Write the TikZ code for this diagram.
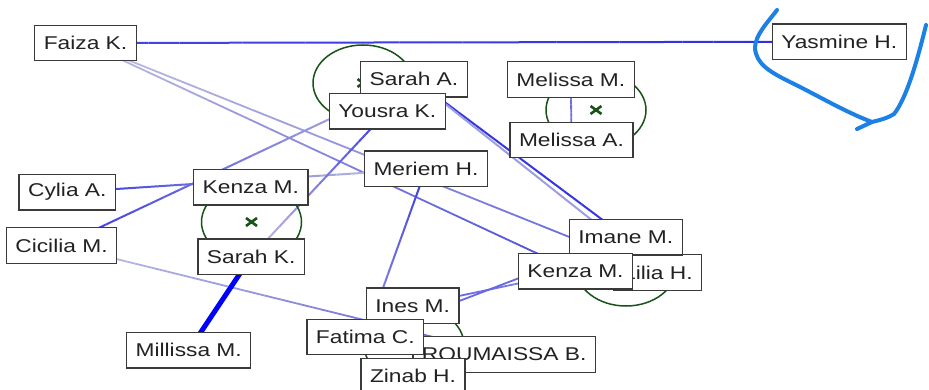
\documentclass[tikz,border=0pt]{standalone}
\usepackage{fontspec}
\setmainfont{Liberation Sans}[FakeStretch=1.23]
\usetikzlibrary{calc,backgrounds}

\definecolor{eblue}{RGB}{45,45,225}
\definecolor{elight}{RGB}{205,205,222}
\definecolor{boxline}{RGB}{58,58,58}
\definecolor{pairgreen}{RGB}{24,84,24}
\definecolor{inkblue}{RGB}{28,128,228}
\definecolor{txt}{RGB}{34,34,34}

% connector between two named nodes, its colour shading from #3 % to #4 % blue
\newcommand\gradedge[5]{%
  \foreach \k in {0,...,23}{%
    \pgfmathsetmacro\ta{\k/24}%
    \pgfmathsetmacro\tb{(\k+1)/24}%
    \pgfmathtruncatemacro\pc{#3+(#4-#3)*(\k+0.5)/24}%
    \draw[line width=#5pt, color=eblue!\pc!elight]
      ($(#1.center)!\ta!(#2.center)$) -- ($(#1.center)!\tb!(#2.center)$);
  }}

% green ring with a cross at its centre
\newcommand\pairring[1]{%
  \draw[pairgreen, line width=1.5pt] (#1) ellipse [x radius=50pt, y radius=38pt];
  \draw[pairgreen, line width=2.6pt]
    ([shift={(-5.5,-4)}]#1) -- ([shift={(5.5,4)}]#1)
    ([shift={(-5.5,4)}]#1) -- ([shift={(5.5,-4)}]#1);}

\tikzset{
  person/.style={draw=boxline, line width=1.3pt, fill=white, text=txt,
    minimum height=35.5pt, inner xsep=9pt, inner ysep=0pt,
    font=\fontsize{18.5}{20}\selectfont},
}

\begin{document}
\begin{tikzpicture}[x=1pt, y=-1pt]
\useasboundingbox (0,0) rectangle (929,390);
\clip (0,0) rectangle (929,390);

% people
\node[person] (faiza)    at (85.5,43)    {Faiza K.};
\node[person] (yasmine)  at (839.3,41.7) {Yasmine H.};
\node[person] (melissaM) at (570.8,79.5) {Melissa M.};
\node[person] (melissaA) at (571.5,140)  {Melissa A.};
\node[person] (sarahA)   at (414,79.2)   {Sarah A.};
\node[person] (yousra)   at (387.3,111.2){Yousra K.};
\node[person] (meriem)   at (426,168.8)  {Meriem H.};
\node[person] (cylia)    at (67.3,192.2) {Cylia A.};
\node[person] (kenzaL)   at (250.8,187.2){Kenza M.};
\node[person] (cicilia)  at (61.5,245.5) {Cicilia M.};
\node[person] (sarahK)   at (251.2,256.7){Sarah K.};
\node[person] (millissa) at (188.7,350.3){Millissa M.};
\node[person, anchor=east] (lilia) at (702.3,272.5) {Lilia H.};
\node[person] (imane)    at (625.8,237.2){Imane M.};
\node[person] (kenzaR)   at (575.5,271.3){Kenza M.};
\node[person, anchor=east] (roumaissa) at (596,354.5) {ROUMAISSA B.};
\node[person] (ines)     at (412.7,305.8){Ines M.};
\node[person] (fatima)   at (365.3,337)  {Fatima C.};
\node[person, anchor=north] (zinab) at (413,357.7) {Zinab H.};

\begin{scope}[on background layer]
  \fill[white] (0,0) rectangle (929,390);
  % links
  \gradedge{faiza}{yasmine}{85}{100}{2}
  \gradedge{faiza}{kenzaR}{8}{85}{1.8}
  \gradedge{faiza}{lilia}{8}{70}{1.8}
  \gradedge{sarahA}{imane}{95}{95}{2}
  \gradedge{sarahA}{lilia}{30}{30}{2}
  \gradedge{cicilia}{sarahA}{95}{10}{2}
  \gradedge{cylia}{meriem}{95}{0}{2}
  \gradedge{yousra}{sarahK}{95}{5}{2}
  \gradedge{cicilia}{roumaissa}{5}{75}{1.8}
  \gradedge{meriem}{fatima}{95}{30}{2}
  \gradedge{ines}{kenzaR}{70}{45}{1.8}
  \gradedge{fatima}{imane}{60}{70}{1.8}
  \gradedge{melissaM}{melissaA}{60}{60}{1.8}
  \draw[blue, line width=5pt] (sarahK.center) -- (millissa.center);

  % paired rings
  \coordinate (ringA) at (363,83);
  \coordinate (ringB) at (596,110);
  \coordinate (ringC) at (251.5,222);
  \coordinate (ringD) at (626,268);
  \coordinate (ringE) at (414,345);
  \pairring{ringA}
  \pairring{ringB}
  \pairring{ringC}
  \pairring{ringD}
  \pairring{ringE}
\end{scope}

% hand-drawn loop around Yasmine H.
\draw[inkblue, line width=4pt, line cap=round, line join=round]
  (777,10) .. controls (768,22) and (755,35) .. (755,48)
  .. controls (756,64) and (770,72) .. (790,82)
  .. controls (815,94) and (845,112) .. (872,122)
  .. controls (880,120) and (888,118) .. (894,114)
  .. controls (905,100) and (915,70) .. (926,25);
\draw[inkblue, line width=4pt, line cap=round] (872,122) -- (857,129);
\end{tikzpicture}
\end{document}
